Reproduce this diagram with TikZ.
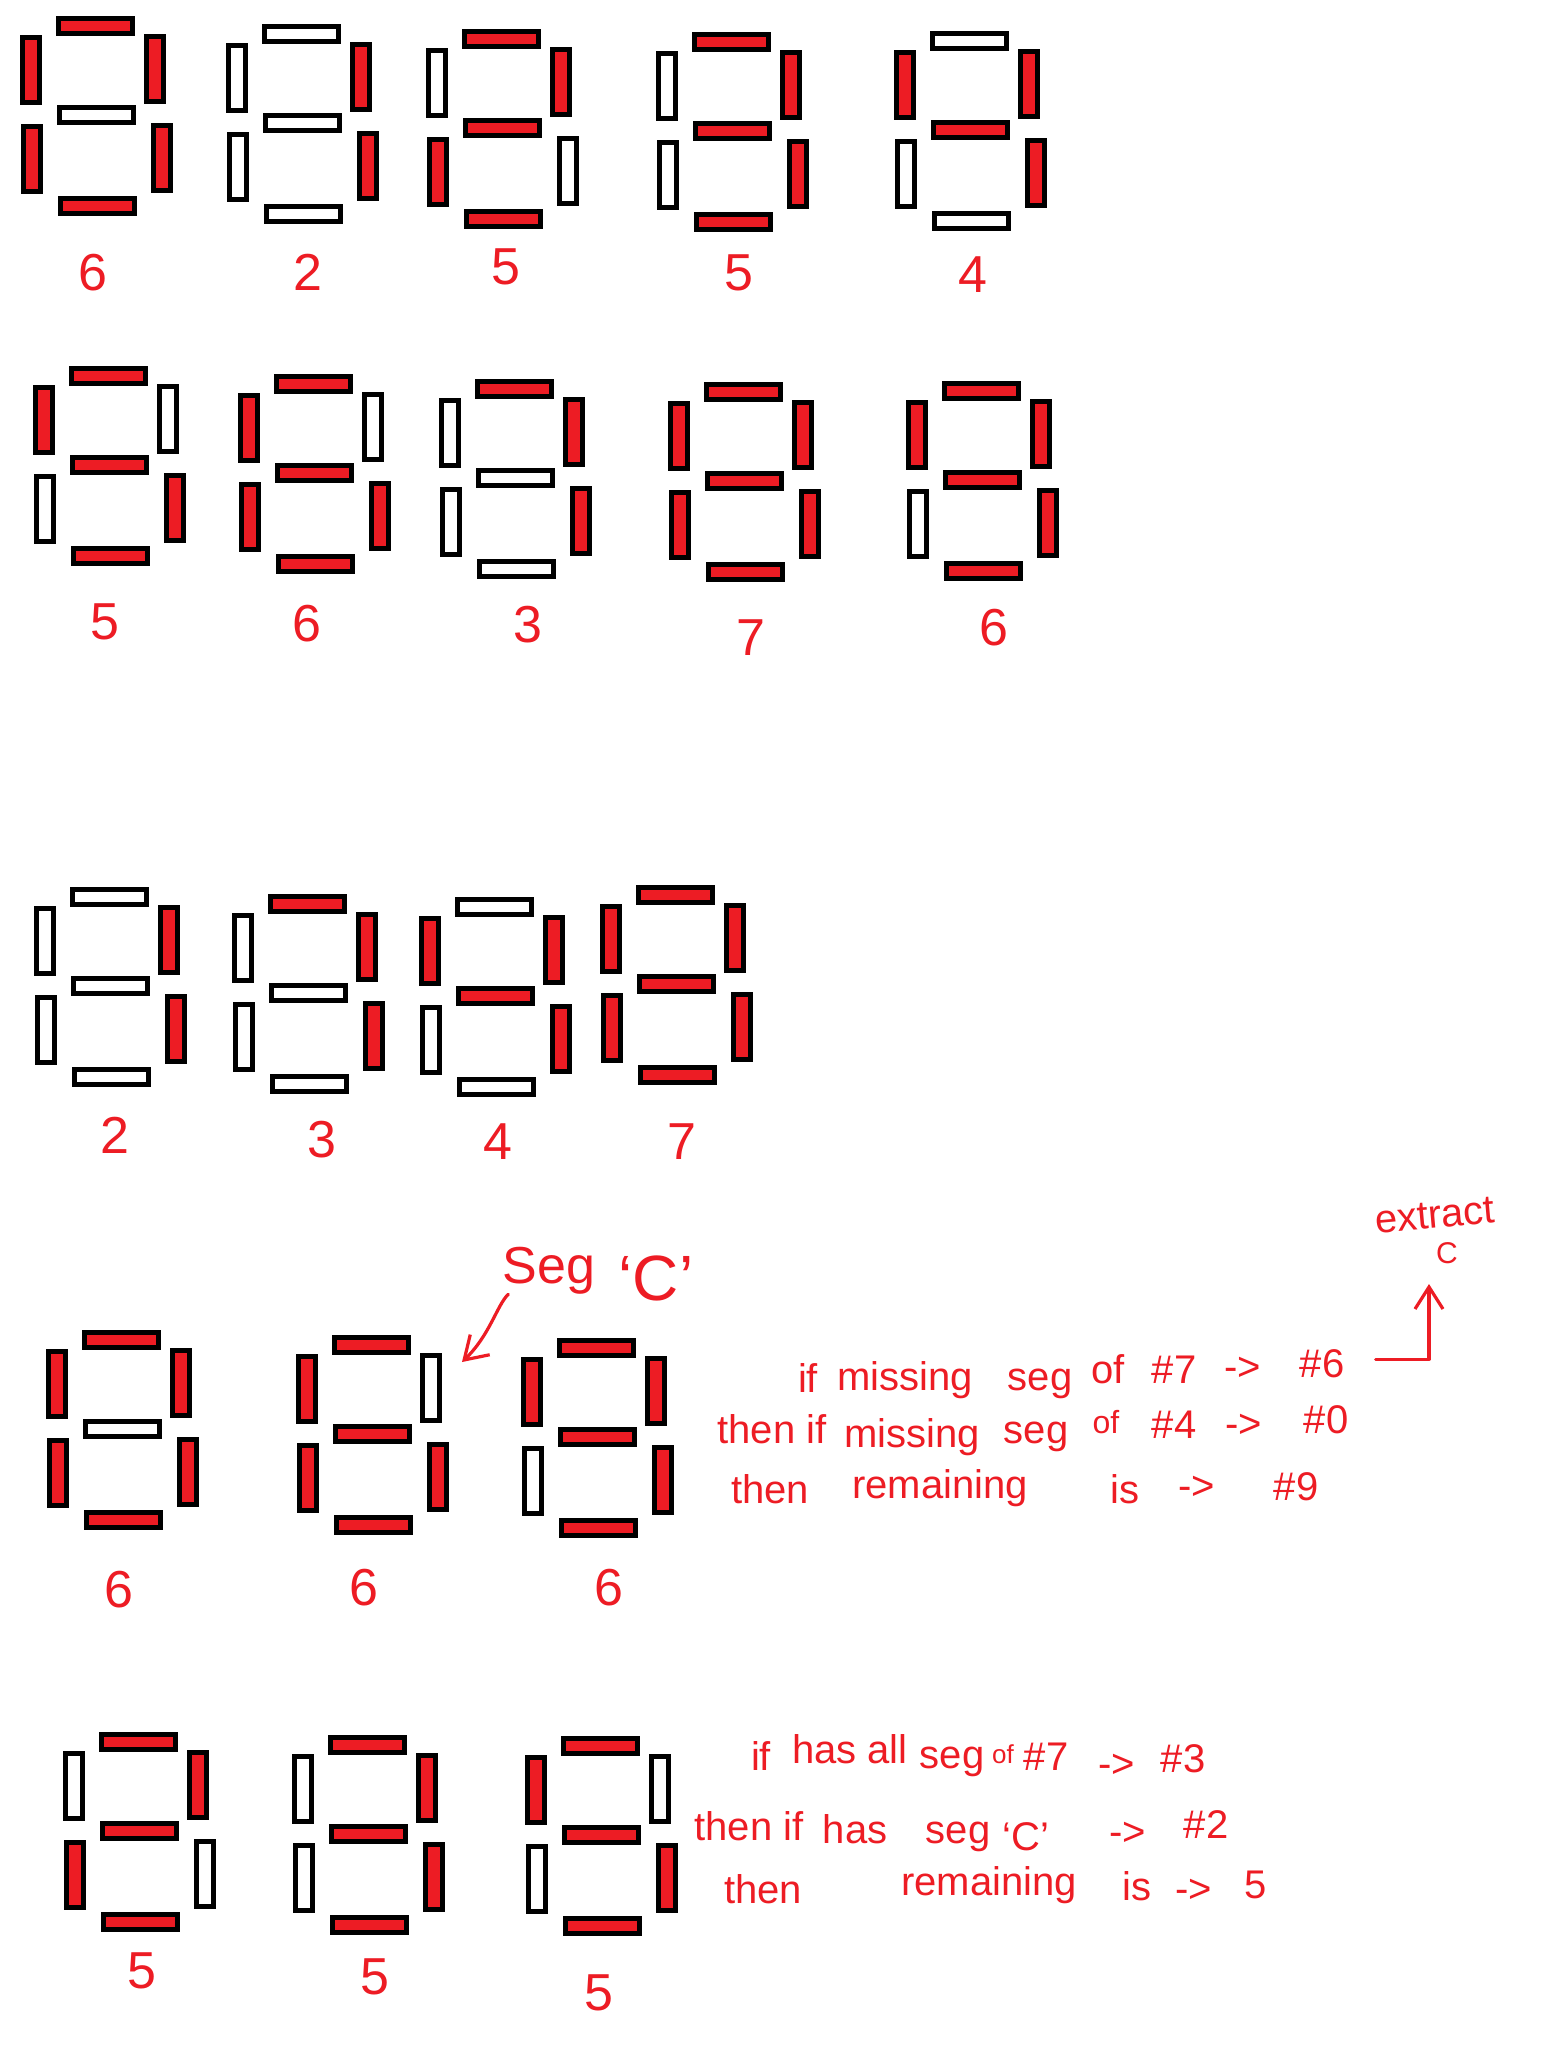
\documentclass[tikz,border=0pt]{standalone}
\usepackage{graphicx}
\usepackage{fontspec}
\setmainfont{Liberation Sans}
\usetikzlibrary{arrows.meta}
\definecolor{segred}{RGB}{237,28,36}
\colorlet{segon}{segred}
\colorlet{segoff}{white}
\tikzset{
  segline/.style={draw=black, line width=2.45pt},
  numlabel/.style={text=segred, font=\fontsize{26}{30}\selectfont, inner sep=0pt},
  hand/.style={text=segred, font=\fontsize{20}{24}\selectfont, inner sep=0pt, anchor=base},
  handarrow/.style={draw=segred, line width=1.6pt, line cap=round, line join=round,
    -{Straight Barb[length=11pt,width=14pt,line width=1.6pt]}},
}
\newcommand\segrect[5]{\draw[segline, fill=#1] (#2+2.45,#3+2.45) rectangle (#4-2.45,#5-2.45);}
% args: x0 y0 top UL UR mid LL LR bottom
\newcommand\sevenseg[9]{%
  \begin{scope}[shift={(#1,#2)}]
    \segrect{#3}{36}{0}{115}{20}
    \segrect{#4}{0}{19}{22}{89}
    \segrect{#5}{124}{18}{146}{88}
    \segrect{#6}{37}{89}{116}{109}
    \segrect{#7}{1}{108}{23}{178}
    \segrect{#8}{131}{107}{153}{177}
    \segrect{#9}{38}{180}{117}{200}
  \end{scope}}
\newcommand\hw[4]{\node[hand] (#1) at (#2,#3) {#4};}
\begin{document}
\begin{tikzpicture}[x=0.5pt,y=-0.5pt]
\fill[white] (0,0) rectangle (1562,2062);
\useasboundingbox (0,0) rectangle (1562,2062);
% ---------- row 1
\sevenseg{20}{16}{segon}{segon}{segon}{segoff}{segon}{segon}{segon}
\sevenseg{226}{24}{segoff}{segoff}{segon}{segoff}{segoff}{segon}{segoff}
\sevenseg{426}{29}{segon}{segoff}{segon}{segon}{segon}{segoff}{segon}
\sevenseg{656}{32}{segon}{segoff}{segon}{segon}{segoff}{segon}{segon}
\sevenseg{894}{31}{segoff}{segon}{segon}{segon}{segoff}{segon}{segoff}
\node[numlabel] (l11) at (93,273) {6};
\node[numlabel] (l12) at (308,272) {2};
\node[numlabel] (l13) at (506,267) {5};
\node[numlabel] (l14) at (739,273) {5};
\node[numlabel] (l15) at (973,275) {4};
% ---------- row 2
\sevenseg{33}{366}{segon}{segon}{segoff}{segon}{segoff}{segon}{segon}
\sevenseg{238}{374}{segon}{segon}{segoff}{segon}{segon}{segon}{segon}
\sevenseg{439}{379}{segon}{segoff}{segon}{segoff}{segoff}{segon}{segoff}
\sevenseg{668}{382}{segon}{segon}{segon}{segon}{segon}{segon}{segon}
\sevenseg{906}{381}{segon}{segon}{segon}{segon}{segoff}{segon}{segon}
\node[numlabel] (l21) at (105,622) {5};
\node[numlabel] (l22) at (307,624) {6};
\node[numlabel] (l23) at (528,625) {3};
\node[numlabel] (l24) at (751,638) {7};
\node[numlabel] (l25) at (994,628) {6};
% ---------- row 3
\sevenseg{34}{887}{segoff}{segoff}{segon}{segoff}{segoff}{segon}{segoff}
\sevenseg{232}{894}{segon}{segoff}{segon}{segoff}{segoff}{segon}{segoff}
\sevenseg{419}{897}{segoff}{segon}{segon}{segon}{segoff}{segon}{segoff}
\sevenseg{600}{885}{segon}{segon}{segon}{segon}{segon}{segon}{segon}
\node[numlabel] (l31) at (115,1135) {2};
\node[numlabel] (l32) at (322,1140) {3};
\node[numlabel] (l33) at (498,1142) {4};
\node[numlabel] (l34) at (682,1142) {7};
% ---------- row 4
\sevenseg{46}{1330}{segon}{segon}{segon}{segoff}{segon}{segon}{segon}
\sevenseg{296}{1335}{segon}{segon}{segoff}{segon}{segon}{segon}{segon}
\sevenseg{521}{1338}{segon}{segon}{segon}{segon}{segoff}{segon}{segon}
\node[numlabel] (l41) at (119,1590) {6};
\node[numlabel] (l42) at (364,1588) {6};
\node[numlabel] (l43) at (609,1588) {6};
% ---------- row 5
\sevenseg{63}{1732}{segon}{segoff}{segon}{segon}{segon}{segoff}{segon}
\sevenseg{292}{1735}{segon}{segoff}{segon}{segon}{segoff}{segon}{segon}
\sevenseg{525}{1736}{segon}{segon}{segoff}{segon}{segoff}{segon}{segon}
\node[numlabel] (l51) at (142,1971) {5};
\node[numlabel] (l52) at (375,1977) {5};
\node[numlabel] (l53) at (599,1993) {5};
% ---------- Seg 'C' annotation
\node[hand, font=\fontsize{26}{30}\selectfont] (segw) at (549,1283) {Seg};
\node[hand, font=\fontsize{32}{36}\selectfont] (segc) at (656,1300) {`C'};
\coordinate (segto) at (462,1362);
\draw[handarrow] ([xshift=3pt]segw.south west) .. controls (497,1305) and (490,1335) .. (segto);
% ---------- block 1
\hw{w11}{808}{1392}{if}
\hw{w12}{905}{1390}{missing}
\hw{w13}{1040}{1390}{seg}
\hw{w14}{1108}{1383}{of}
\hw{w15}{1174}{1383}{\#7}
\hw{w16}{1243}{1380}{->}
\hw{w17}{1322}{1377}{\#6}
\hw{w21}{772}{1443}{then if}
\hw{w22}{912}{1447}{missing}
\hw{w23}{1036}{1443}{seg}
\node[hand, font=\fontsize{16}{20}\selectfont] (w24) at (1106,1433) {of};
\hw{w25}{1174}{1438}{\#4}
\hw{w26}{1244}{1437}{->}
\hw{w27}{1326}{1433}{\#0}
\hw{w31}{770}{1503}{then}
\hw{w32}{940}{1498}{remaining}
\hw{w33}{1125}{1503}{is}
\hw{w34}{1197}{1499}{->}
\hw{w35}{1296}{1500}{\#9}
\node[hand, rotate=5] (extr) at (1436,1228) {extract};
\node[hand, font=\fontsize{15}{18}\selectfont] (extc) at (1447,1263) {C};
\coordinate (exto) at (1429,1284);
\draw[handarrow] ([xshift=15.5pt,yshift=2pt]w17.east) -| (exto);
% ---------- block 2
\hw{v11}{761}{1770}{if}
\hw{v12}{850}{1763}{has all}
\hw{v13}{952}{1768}{seg}
\node[hand, font=\fontsize{13}{15}\selectfont] (v14) at (1003,1763) {of};
\hw{v15}{1046}{1770}{\#7}
\hw{v16}{1117}{1777}{->}
\hw{v17}{1183}{1772}{\#3}
\hw{v21}{749}{1840}{then if}
\hw{v22}{855}{1843}{has}
\hw{v23}{958}{1843}{seg}
\hw{v24}{1026}{1850}{`C'}
\hw{v25}{1128}{1845}{->}
\hw{v26}{1206}{1838}{\#2}
\hw{v31}{763}{1903}{then}
\hw{v32}{989}{1895}{remaining}
\hw{v33}{1137}{1900}{is}
\hw{v34}{1194}{1902}{->}
\hw{v35}{1256}{1898}{5}
\end{tikzpicture}
\end{document}
